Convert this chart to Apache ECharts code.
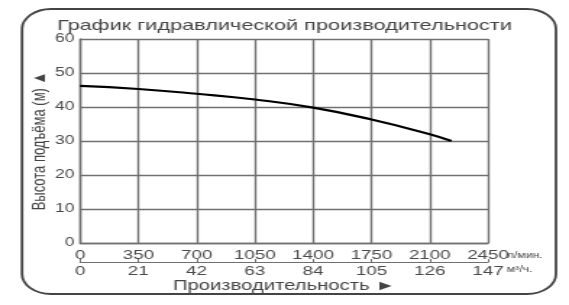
<!DOCTYPE html>
<html><head><meta charset="utf-8">
<script src="https://cdn.jsdelivr.net/npm/echarts@6/dist/echarts.min.js"></script>
<style>html,body{margin:0;padding:0;background:#fff;overflow:hidden}
#c{width:393px;height:305px;transform-origin:0 0;transform:scaleX(1.4478)}</style>
</head><body><div id="c"></div>
<script>
const titleText = 'График гидравлической производительности';
const yName = 'Высота подъёма (м) ▲';
const xName = 'Производительность ►';
const flowLpm = [0, 350, 700, 1050, 1400, 1750, 2100, 2230];
const headM = [46.2, 45.3, 43.9, 42.2, 39.8, 36.3, 32.0, 30.0];
const xTicksLpm = [0, 2450, 350];   // min, max, interval (л/мин.)
const xTicksM3h = [0, 147, 21];     // min, max, interval (м³/ч.)
const yTicks = [0, 60, 10];
const unitLpm = 'л/мин.';
const unitM3h = 'м³/ч.';

const font = 'Liberation Sans, Arial, sans-serif';
const gridCol = '#707070';
const txtCol = '#4a4a4a';
const chart = echarts.init(document.getElementById('c'), null, {renderer: 'canvas'});
chart.setOption({
  animation: false,
  backgroundColor: '#fff',
  title: {text: titleText, left: 'center', top: 13, textStyle: {fontFamily: font, fontSize: 15, fontWeight: 'normal', color: '#444'}},
  grid: {left: 55.3, right: 55.9, top: 39, bottom: 62, containLabel: false},
  xAxis: [{
    type: 'value', position: 'bottom', min: xTicksLpm[0], max: xTicksLpm[1], interval: xTicksLpm[2],
    axisLine: {show: true, lineStyle: {color: gridCol, width: 1.4}}, axisTick: {show: false},
    splitLine: {show: true, lineStyle: {color: gridCol, width: 1.4}},
    axisLabel: {margin: 6, fontFamily: font, fontSize: 13, color: txtCol, formatter: v => String(v)}
  }, {
    type: 'value', position: 'bottom', offset: 19, min: xTicksM3h[0], max: xTicksM3h[1], interval: xTicksM3h[2],
    axisLine: {show: true, lineStyle: {color: gridCol, width: 1}},
    axisTick: {show: true, inside: true, length: 3, lineStyle: {color: gridCol}},
    splitLine: {show: false},
    axisLabel: {margin: 3, fontFamily: font, fontSize: 13, color: txtCol, formatter: v => String(v)},
    name: xName, nameLocation: 'middle', nameGap: 17, nameMoveOverlap: false,
    nameTextStyle: {fontFamily: font, fontSize: 14, color: '#444'}
  }],
  yAxis: {
    type: 'value', min: yTicks[0], max: yTicks[1], interval: yTicks[2],
    axisLine: {show: true, lineStyle: {color: gridCol, width: 1.4}}, axisTick: {show: false},
    splitLine: {show: true, lineStyle: {color: gridCol, width: 1.4}},
    axisLabel: {margin: 4, fontFamily: font, fontSize: 12, color: txtCol},
    name: yName, nameLocation: 'middle', nameGap: 21, nameRotate: 90, nameMoveOverlap: false,
    nameTextStyle: {fontFamily: font, fontSize: 13, color: '#444'}
  },
  series: [{
    type: 'line', xAxisIndex: 0, smooth: true, symbol: 'none',
    lineStyle: {color: '#000', width: 2.2},
    data: flowLpm.map((x, i) => [x, headM[i]])
  }],
  graphic: [
    {type: 'rect', shape: {x: 15.2, y: 9, width: 368.8, height: 285, r: 20}, style: {fill: 'none', stroke: '#444', lineWidth: 1.8}, z: 100},
    {type: 'text', left: 350, top: 251, style: {text: unitLpm, font: '8.5px ' + font, fill: txtCol}},
    {type: 'text', left: 350, top: 265, style: {text: unitM3h, font: '8.5px ' + font, fill: txtCol}}
  ]
});
</script></body></html>
